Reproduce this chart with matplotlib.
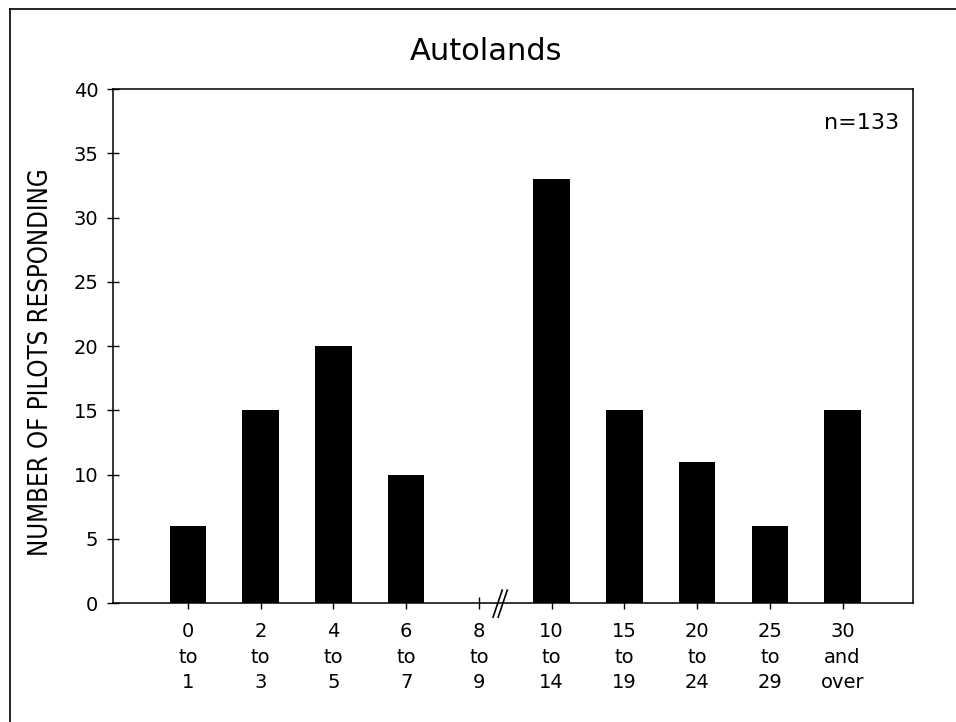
import numpy as np
import matplotlib
matplotlib.use('Agg')
import matplotlib.pyplot as plt
from matplotlib.lines import Line2D

# data
categories = ['0\nto\n1', '2\nto\n3', '4\nto\n5', '6\nto\n7', '8\nto\n9',
              '10\nto\n14', '15\nto\n19', '20\nto\n24', '25\nto\n29', '30\nand\nover']
pilots = [6, 15, 20, 10, 0, 33, 15, 11, 6, 15]
y_ticks = [0, 5, 10, 15, 20, 25, 30, 35, 40]
n_total = 133
break_after = 4   # axis break sits just right of the "8 to 9" slot

fig = plt.figure(figsize=(9.56, 7.22), dpi=100)
ax = fig.add_axes([0.1182, 0.1648, 0.837, 0.7119])

x = np.arange(len(categories))
ax.bar(x, pilots, width=0.5, color='black')

ax.set_xlim(-1.03, 9.97)
ax.set_ylim(0, 40)
ax.set_yticks(y_ticks)
ax.set_xticks(x)
ax.set_xticklabels(categories, linespacing=1.45)

ax.tick_params(axis='y', direction='inout', length=9, width=1, labelsize=14, pad=6)
ax.tick_params(axis='x', direction='inout', length=8, width=1, labelsize=14, pad=9.5)
for s in ax.spines.values():
    s.set_linewidth(1.1)

fig.text(486 / 956, 1 - 51 / 722, 'Autolands', fontsize=22, ha='center', va='center')
ax.set_ylabel('NUMBER OF PILOTS RESPONDING', fontsize=18.5, fontstretch='condensed')
ax.yaxis.set_label_coords(-0.074, 0.469)

ax.text(0.983, 0.934, 'n=%d' % n_total,
        transform=ax.transAxes, ha='right', va='center', fontsize=16)

# break mark "//" on the x axis
for dx in (0.0, 0.07):
    ax.plot([break_after + 0.195 + dx, break_after + 0.32 + dx], [-1.1, 1.0],
            color='black', linewidth=1.2, clip_on=False)

# outer frame (only top and left visible in the scan)
fig.add_artist(Line2D([10 / 956, 1.0], [1 - 9 / 722, 1 - 9 / 722],
                      transform=fig.transFigure, color='black', linewidth=1.2))
fig.add_artist(Line2D([10 / 956, 10 / 956], [0.0, 1 - 9 / 722],
                      transform=fig.transFigure, color='black', linewidth=1.2))

fig.savefig('out.png', dpi=100)
